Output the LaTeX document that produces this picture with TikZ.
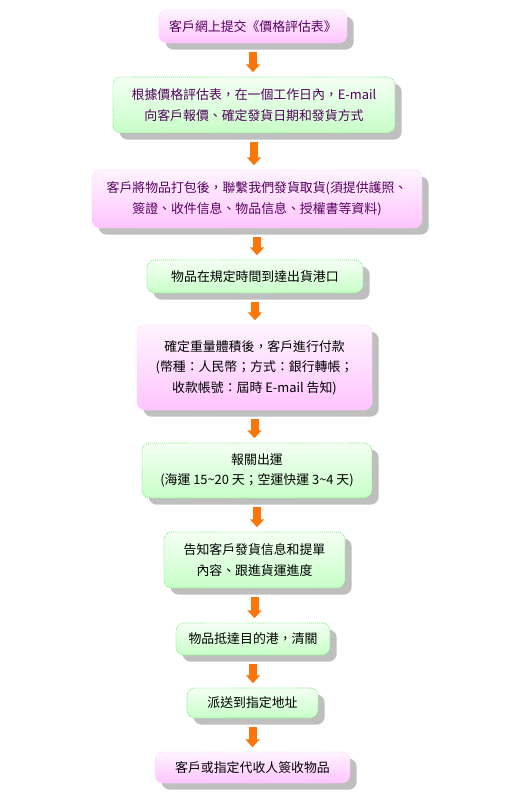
\documentclass[tikz,border=0pt]{standalone}
\usepackage{fontspec}
\setmainfont{Noto Sans CJK TC}
\usetikzlibrary{shapes,arrows.meta,positioning,shadows}

\definecolor{pinktop}{RGB}{255,244,255}
\definecolor{pinkbot}{RGB}{255,196,255}
\definecolor{pinkline}{RGB}{255,205,255}
\definecolor{greentop}{RGB}{244,255,244}
\definecolor{greenbot}{RGB}{200,255,200}
\definecolor{greenline}{RGB}{110,235,110}
\definecolor{purpletext}{RGB}{85,0,95}
\definecolor{arroworange}{RGB}{250,118,10}

\begin{document}
\begin{tikzpicture}[
    stepbase/.style={rectangle, rounded corners=0.24cm, densely dotted, line width=0.7pt,
        align=center, inner sep=2pt, font=\fontsize{11}{17.5}\selectfont,
        drop shadow={shadow xshift=0.2cm, shadow yshift=-0.2cm, fill=black!25, opacity=1}},
    pinkbox/.style={stepbase, draw=pinkline, top color=pinktop, bottom color=pinkbot},
    greenbox/.style={stepbase, draw=greenline, top color=greentop, bottom color=greenbot},
    flow/.style={-{Triangle[width=0.42cm,length=0.24cm]}, line width=0.24cm, draw=arroworange,
        shorten <=0.27cm, shorten >=0.13cm}
]

    \useasboundingbox (0,0) rectangle (15.54,-23.97);

    % --- Ordering and quotation ---
    \node[pinkbox, text=purpletext, minimum width=5.64cm, minimum height=0.99cm] (order) at (7.59,-0.795)
        {客戶網上提交《價格評估表》};
    \node[greenbox, text=purpletext, minimum width=8.46cm, minimum height=1.68cm] (quote) at (7.62,-3.15)
        {根據價格評估表，在一個工作日內，E-mail\\向客戶報價、確定發貨日期和發貨方式};
    \node[pinkbox, text=purpletext, minimum width=9.9cm, minimum height=1.74cm] (pack) at (7.71,-5.97)
        {客戶將物品打包後，聯繫我們發貨取貨(須提供護照、\\簽證、收件信息、物品信息、授權書等資料)};

    % --- Shipping and payment ---
    \node[greenbox, minimum width=6.48cm, minimum height=0.99cm] (port) at (7.65,-8.295)
        {物品在規定時間到達出貨港口};
    \node[pinkbox, minimum width=7.05cm, minimum height=2.55cm] (pay) at (7.635,-11.025)
        {確定重量體積後，客戶進行付款\\(幣種：人民幣；方式：銀行轉帳；\\收款帳號：屆時 E-mail 告知)};
    \node[greenbox, minimum width=6.9cm, minimum height=1.65cm] (ship) at (7.71,-14.115)
        {報關出運\\(海運 15\textasciitilde20 天；空運快運 3\textasciitilde4 天)};
    \node[greenbox, minimum width=5.43cm, minimum height=1.68cm] (track) at (7.635,-16.8)
        {告知客戶發貨信息和提單\\內容、跟進貨運進度};

    % --- Arrival and delivery ---
    \node[greenbox, minimum width=4.62cm, minimum height=0.96cm] (arrive) at (7.59,-19.17)
        {物品抵達目的港，清關};
    \node[greenbox, minimum width=3.93cm, minimum height=0.9cm] (deliver) at (7.575,-21.09)
        {派送到指定地址};
    \node[pinkbox, minimum width=5.85cm, minimum height=0.93cm] (sign) at (7.575,-23.025)
        {客戶或指定代收人簽收物品};

    % Arrows between steps
    \draw[flow] (order.south) -- (order.south |- quote.north);
    \draw[flow] (quote.south) -- (quote.south |- pack.north);
    \draw[flow] (pack.south) -- (pack.south |- port.north);
    \draw[flow] (port.south) -- (port.south |- pay.north);
    \draw[flow] (pay.south) -- (pay.south |- ship.north);
    \draw[flow] (ship.south) -- (ship.south |- track.north);
    \draw[flow] (track.south) -- (track.south |- arrive.north);
    \draw[flow] (arrive.south) -- (arrive.south |- deliver.north);
    \draw[flow] (deliver.south) -- (deliver.south |- sign.north);

\end{tikzpicture}
\end{document}
